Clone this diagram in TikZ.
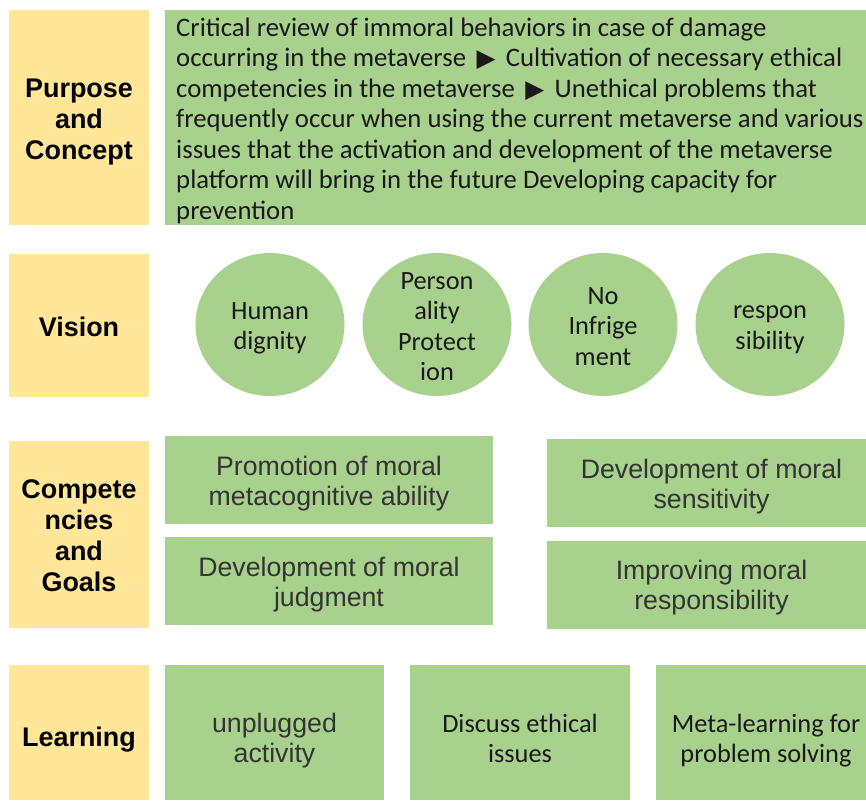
\documentclass[tikz,border=0pt]{standalone}
\usepackage{fontspec}
\setmainfont{Carlito}
\newfontfamily\arialfont{Liberation Sans}
\newfontfamily\symfont{DejaVu Sans}
\usetikzlibrary{shapes.geometric,positioning}
\definecolor{headyellow}{HTML}{FFE699}
\definecolor{boxgreen}{HTML}{A9D18E}
\newcommand{\tri}{\,{\symfont\fontsize{21}{24}\selectfont ▶}\,}
\tikzset{
head box/.style={rectangle,fill=headyellow,inner sep=0pt,minimum width=4.2cm},
head text/.style={align=center,font=\arialfont\bfseries\fontsize{23}{26.5}\selectfont},
green box/.style={rectangle,fill=boxgreen,inner sep=0pt},
arial text/.style={align=center,text=black!80,font=\arialfont\fontsize{22.8}{25.6}\selectfont},
calibri text/.style={align=center,text=black!90,font=\fontsize{22.5}{26}\selectfont},
vision node/.style={ellipse,fill=boxgreen,inner sep=0pt,minimum width=4.47cm,minimum height=4.29cm}}

\begin{document}
\begin{tikzpicture}[x=0.03cm,y=-0.03cm]

\useasboundingbox (0,0) rectangle (866,800);

      \node[head box,minimum height=6.45cm,label={[head text,yshift=-0.135cm]center:Purpose\\and\\Concept}] (purpose) at (79,117.5) {};
      \node[green box,minimum width=21.03cm,minimum height=6.45cm] (purposebox) at (515.5,117.5) {};
      \node[anchor=west,align=left,inner sep=0pt,text=black!90,font=\fontsize{22.8}{26}\selectfont] (purposetxt) at (176,120.5)
        {Critical review of immoral behaviors in case of damage\\
         occurring in the metaverse \tri{} Cultivation of necessary ethical\\
         competencies in the metaverse \tri{} Unethical problems that\\
         frequently occur when using the current metaverse and various\\
         issues that the activation and development of the metaverse\\
         platform will bring in the future Developing capacity for\\
         prevention};

      \node[head box,minimum height=4.29cm,label={[head text,yshift=-0.03cm]center:Vision}] (vision) at (79,325.5) {};
      \node[vision node,label={[calibri text,yshift=-0.12cm]center:Human\\dignity}] (dignity) at (270,324.5) {};
      \node[vision node,label={[calibri text,yshift=-0.06cm]center:Person\\ality\\Protect\\ion}] (personality) at (437,324.5) {};
      \node[vision node,label={[calibri text,yshift=-0.06cm]center:No\\Infrige\\ment}] (infringe) at (603,324.5) {};
      \node[vision node,label={[calibri text,yshift=-0.15cm]center:respon\\sibility}] (respons) at (770,324.5) {};

      \node[head box,minimum height=5.61cm,label={[head text,yshift=-0.03cm]center:Compete\\ncies\\and\\Goals}] (goals) at (79,534.5) {};
      \node[green box,minimum width=9.84cm,minimum height=2.64cm,label={[arial text,yshift=-0.12cm]center:Promotion of moral\\metacognitive ability}] (metacog) at (329,480) {};
      \node[green box,minimum width=9.84cm,minimum height=2.64cm,label={[arial text,yshift=-0.12cm]center:Development of moral\\judgment}] (judgment) at (329,581) {};
      \node[green box,minimum width=9.57cm,minimum height=2.64cm,label={[arial text,xshift=0.15cm,yshift=-0.12cm]center:Development of moral\\sensitivity}] (sensitivity) at (706.5,483) {};
      \node[green box,minimum width=9.57cm,minimum height=2.64cm,label={[arial text,xshift=0.15cm,yshift=-0.09cm]center:Improving moral\\responsibility}] (responsib) at (706.5,584.5) {};

      \node[head box,minimum height=4.05cm,label={[head text,yshift=-0.21cm]center:Learning}] (learning) at (79,732.5) {};
      \node[green box,minimum width=6.57cm,minimum height=4.05cm,label={[arial text,yshift=-0.24cm]center:unplugged\\activity}] (unplugged) at (274.5,732.5) {};
      \node[green box,minimum width=6.6cm,minimum height=4.05cm,label={[calibri text,yshift=-0.18cm]center:Discuss ethical\\issues}] (discuss) at (520,732.5) {};
      \node[green box,minimum width=6.3cm,minimum height=4.05cm,label={[calibri text,xshift=0.15cm,yshift=-0.24cm]center:Meta-learning for\\problem solving}] (metalearn) at (761,732.5) {};
\end{tikzpicture}
\end{document}
